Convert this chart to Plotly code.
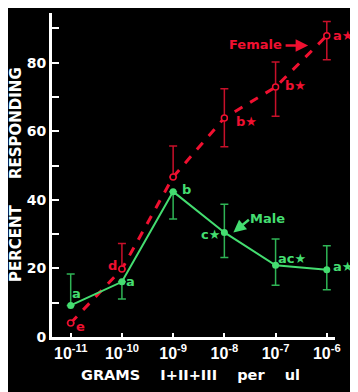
import numpy as np
import plotly.graph_objects as go

# ---- data ----
doses = [1e-11, 1e-10, 1e-9, 1e-8, 1e-7, 1e-6]
dose_ticktext = ["10<sup>-11</sup>", "10<sup>-10</sup>", "10<sup>-9</sup>",
                 "10<sup>-8</sup>", "10<sup>-7</sup>", "10<sup>-6</sup>"]

female_pct = [4.1, 19.8, 46.7, 63.9, 72.9, 87.9]
female_err_up = [0, 7.5, 9.0, 8.5, 7.3, 4.1]
female_err_down = [0, 0, 0, 8.4, 8.5, 7.0]
female_letters = ["e", "d", "", "b★", "b★", "a★"]

male_pct = [9.2, 16.1, 42.4, 30.5, 20.9, 19.6]
male_err_up = [9.2, 0, 0, 8.2, 7.7, 7.0]
male_err_down = [0, 5.0, 8.0, 7.3, 5.8, 5.8]
male_letters = ["a", "a", "b", "c★", "ac★", "a★"]

y_tickvals = [0, 10, 20, 30, 40, 50, 60, 70, 80, 90]
y_ticktext = ["0", "", "20", "", "40", "", "60", "", "80", ""]

# ---- style ----
RED = "#f01030"
RED_ERR = "#c8102a"
GREEN = "#44dd70"
GREEN_ERR = "#2fb455"
FONT = "DejaVu Sans"

fig = go.Figure()

fig.add_trace(go.Scatter(
    x=doses, y=female_pct, mode="lines+markers",
    line=dict(color=RED, width=3, dash="dash"),
    marker=dict(symbol="circle", size=6, color="black", line=dict(color=RED, width=1.5)),
    error_y=dict(type="data", symmetric=False, array=female_err_up, arrayminus=female_err_down,
                 color=RED_ERR, thickness=1.5, width=4),
    showlegend=False, cliponaxis=False,
))
fig.add_trace(go.Scatter(
    x=doses, y=male_pct, mode="lines+markers",
    line=dict(color=GREEN, width=2),
    marker=dict(symbol="circle", size=7, color=GREEN),
    error_y=dict(type="data", symmetric=False, array=male_err_up, arrayminus=male_err_down,
                 color=GREEN_ERR, thickness=1.5, width=4),
    showlegend=False, cliponaxis=False,
))

annotations = []
female_offsets = [(10, -4), (-9, 4), (0, 0), (22, -4), (20, 2), (16, 0)]
male_offsets = [(6, 12), (9, 0), (13, 2), (-14, -2), (16, 7), (16, 3)]
for d, v, t, (dx, dy) in zip(doses, female_pct, female_letters, female_offsets):
    if t:
        annotations.append(dict(x=np.log10(d), y=v, text=t, showarrow=False,
                                xshift=dx, yshift=dy,
                                font=dict(family=FONT, size=13, color=RED, weight="bold")))
for d, v, t, (dx, dy) in zip(doses, male_pct, male_letters, male_offsets):
    if t:
        annotations.append(dict(x=np.log10(d), y=v, text=t, showarrow=False,
                                xshift=dx, yshift=dy,
                                font=dict(family=FONT, size=13, color=GREEN, weight="bold")))

# series labels with arrows
annotations.append(dict(x=-7.40, y=85.3, text="Female", showarrow=False,
                        font=dict(family=FONT, size=13, color=RED, weight="bold")))
annotations.append(dict(x=-6.365, y=85.0, text="", showarrow=True, ax=-24, ay=0,
                        arrowhead=2, arrowsize=1, arrowwidth=2.5, arrowcolor=RED))
annotations.append(dict(x=-7.16, y=34.6, text="Male", showarrow=False,
                        font=dict(family=FONT, size=13, color=GREEN, weight="bold")))
annotations.append(dict(x=-7.824, y=30.5, text="", showarrow=True, ax=17, ay=-14,
                        arrowhead=2, arrowsize=1, arrowwidth=2.5, arrowcolor=GREEN))

# axis titles
annotations.append(dict(xref="paper", yref="paper", x=0.49, y=0, yanchor="middle",
                        yshift=-38, showarrow=False,
                        text="GRAMS\u00a0\u00a0\u00a0\u00a0I+II+III\u00a0\u00a0\u00a0\u00a0per\u00a0\u00a0\u00a0\u00a0ul",
                        font=dict(family=FONT, size=14.5, color="white", weight="bold")))
annotations.append(dict(xref="paper", yref="paper", x=0, y=0.5, xanchor="center",
                        yanchor="middle", xshift=-36, yshift=0, textangle=-90, showarrow=False,
                        text="PERCENT\u00a0\u00a0\u00a0\u00a0\u00a0RESPONDING",
                        font=dict(family=FONT, size=15, color="white", weight="bold")))

# the page body has an 8px default margin, so the plot area is shifted up/left by 8px
fig.update_layout(
    width=358, height=392,
    margin=dict(l=44, r=31, t=5, b=63),
    paper_bgcolor="black", plot_bgcolor="black",
    annotations=annotations,
    xaxis=dict(type="log", range=[-11.365, -5.84], tickvals=doses, ticktext=dose_ticktext,
               ticks="inside", ticklen=4, tickwidth=2, tickcolor="white",
               showline=True, linecolor="white", linewidth=3, showgrid=False, zeroline=False,
               tickfont=dict(family="Liberation Sans", size=16, color="white", weight="bold")),
    yaxis=dict(range=[0, 94.5], tickvals=y_tickvals, ticktext=y_ticktext,
               ticks="inside", ticklen=7, tickwidth=2, tickcolor="white",
               showline=True, linecolor="white", linewidth=3, showgrid=False, zeroline=False,
               tickfont=dict(family=FONT, size=14, color="white", weight="bold")),
)

fig.write_html("out.html")
